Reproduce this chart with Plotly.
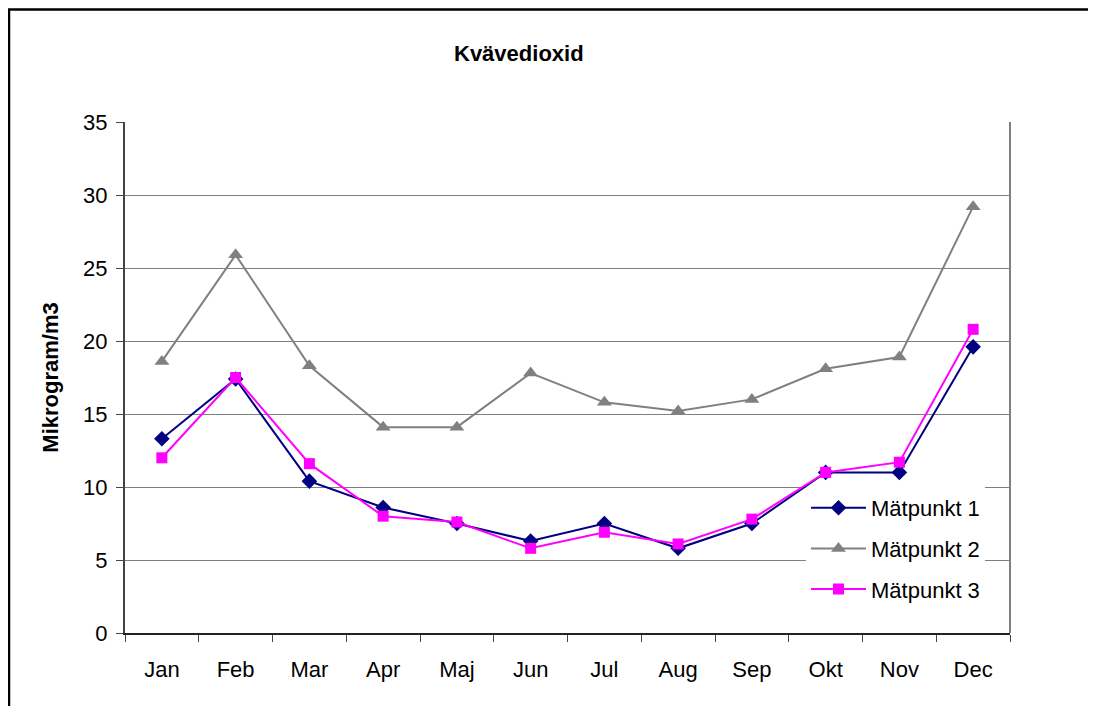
import plotly.graph_objects as go

months = ["Jan", "Feb", "Mar", "Apr", "Maj", "Jun", "Jul", "Aug", "Sep", "Okt", "Nov", "Dec"]
matpunkt1 = [13.3, 17.4, 10.4, 8.6, 7.5, 6.3, 7.5, 5.8, 7.5, 11.0, 11.0, 19.6]
matpunkt2 = [18.6, 25.9, 18.3, 14.1, 14.1, 17.8, 15.8, 15.2, 16.0, 18.1, 18.9, 29.2]
matpunkt3 = [12.0, 17.5, 11.6, 8.0, 7.6, 5.8, 6.9, 6.1, 7.8, 11.0, 11.7, 20.8]
y_ticks = [0, 5, 10, 15, 20, 25, 30, 35]

# page body has an 8px margin; figure is placed at (8, 8)
OFF = 8
W, H = 1096 - OFF, 706 - OFF
PL, PR, PT, PB = 125, 1010, 122, 633  # plot area in page pixels
L, T = PL - OFF, PT - OFF
R = W - (PR - OFF)
B = H - (PB - OFF)
pw, ph = PR - PL, PB - PT

def px_x(p):
    return (p - PL) / pw

def px_y(p):
    return (PB - p) / ph

fig = go.Figure()
series = [
    ("Mätpunkt 1", matpunkt1, "#000080", "diamond", 12),
    ("Mätpunkt 2", matpunkt2, "#808080", "triangle-up", 13),
    ("Mätpunkt 3", matpunkt3, "#FF00FF", "square", 11),
]
for i, (name, vals, col, sym, sz) in enumerate(series):
    fig.add_trace(go.Scatter(
        x=months, y=vals, name=name, mode="lines+markers",
        line=dict(color=col, width=2),
        marker=dict(symbol=sym, size=sz, color=col),
        legendgroup=f"g{i}",
    ))

fig.update_layout(
    width=W, height=H,
    margin=dict(l=L, r=R, t=T, b=B),
    paper_bgcolor="white", plot_bgcolor="white",
    font=dict(family="Liberation Sans, Arial, sans-serif", size=22, color="black"),
    showlegend=True,
    legend=dict(
        x=px_x(806), y=px_y(487), xanchor="left", yanchor="top",
        bgcolor="white", borderwidth=0,
        font=dict(size=22, color="black"),
        tracegroupgap=9, itemwidth=55,
    ),
    annotations=[dict(
        text="<b>Kvävedioxid</b>", x=px_x(519), y=px_y(53),
        xref="paper", yref="paper", showarrow=False,
        font=dict(size=22, color="black"), xanchor="center", yanchor="middle",
    )],
    shapes=[
        dict(type="rect", xref="paper", yref="paper",
             x0=px_x(9), y0=px_y(9.5), x1=px_x(1300), y1=px_y(900),
             line=dict(color="black", width=2.5), fillcolor="rgba(0,0,0,0)", layer="below"),
        dict(type="line", xref="paper", yref="paper",
             x0=1, x1=1, y0=0, y1=1, line=dict(color="#808080", width=2)),
    ],
)

fig.update_xaxes(
    type="category", categoryorder="array", categoryarray=months,
    range=[-0.5, 11.5], showgrid=False,
    showline=True, linecolor="#222222", linewidth=2,
    ticks="outside", tickson="boundaries", ticklen=7, tickcolor="#444444", tickwidth=1,
    tickfont=dict(size=22), ticklabelstandoff=16,
)
fig.update_yaxes(
    range=[0, 35], tickvals=y_ticks, showgrid=True, gridcolor="#808080", gridwidth=1,
    showline=True, linecolor="#444444", linewidth=2,
    ticks="outside", ticklen=7, tickcolor="#444444", tickwidth=1,
    tickfont=dict(size=22), zeroline=False, ticklabelstandoff=4,
    title=dict(text="<b>Mikrogram/m3</b>", font=dict(size=22), standoff=18),
)

fig.write_html("out.html")
